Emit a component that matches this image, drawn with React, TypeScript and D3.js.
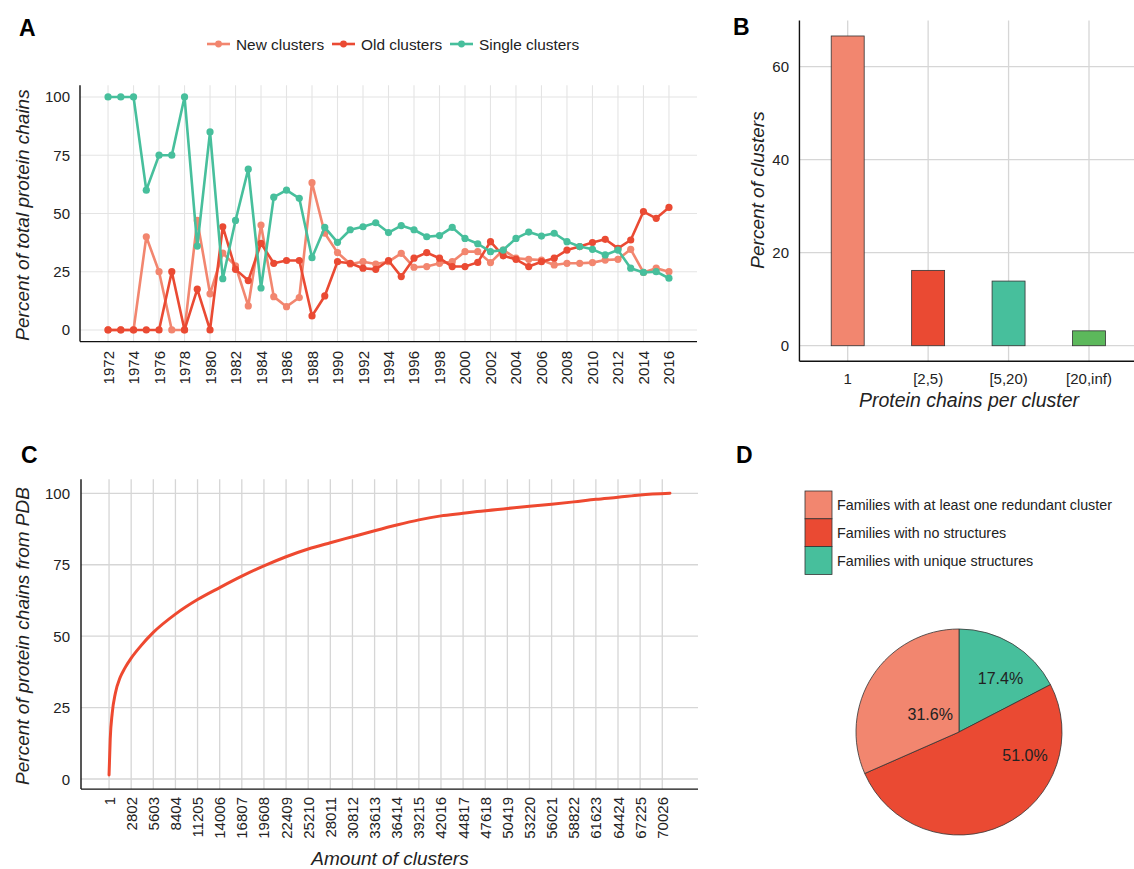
import React from 'react';
import * as d3 from 'd3';

// ---- panel A: share of protein chains per year ----
const years = [1972, 1973, 1974, 1975, 1976, 1977, 1978, 1979, 1980, 1981, 1982, 1983, 1984, 1985, 1986, 1987, 1988, 1989, 1990, 1991, 1992, 1993, 1994, 1995, 1996, 1997, 1998, 1999, 2000, 2001, 2002, 2003, 2004, 2005, 2006, 2007, 2008, 2009, 2010, 2011, 2012, 2013, 2014, 2015, 2016];
const newClusters = [0, 0, 0, 40, 25, 0, 0, 47, 15.5, 33, 27.5, 10.3, 45, 14.3, 10, 13.9, 63.2, 41.5, 33.2, 28.3, 29.3, 28.3, 29.3, 32.9, 26.9, 27.2, 28.6, 29.3, 33.6, 33.6, 28.9, 34.3, 30.8, 30.3, 30, 27.9, 28.6, 28.6, 28.9, 30, 30.3, 34.6, 24.7, 26.5, 25];
const oldClusters = [0, 0, 0, 0, 0, 25, 0, 17.5, 0, 44.3, 26, 21.2, 37.2, 28.6, 29.8, 29.8, 6, 14.6, 29.3, 28.6, 26.5, 26, 29.8, 22.9, 30.8, 33.2, 30.8, 27.2, 27.2, 29, 37.9, 31.8, 30.3, 27.2, 29.3, 30.8, 34.3, 35.8, 37.5, 38.9, 35, 38.6, 50.8, 47.9, 52.6];
const singleClusters = [100, 100, 100, 60, 75, 75, 100, 36, 85, 22, 47, 69, 18, 57, 60, 56.5, 31, 44, 37.6, 43, 44.3, 46, 41.8, 44.8, 43, 40, 40.5, 44, 39.3, 37, 33.6, 34.3, 39.3, 42, 40.3, 41.5, 37.9, 35.8, 34.6, 32.2, 34.3, 26.5, 24.7, 25, 22.2];
const yearTicks = [1972, 1974, 1976, 1978, 1980, 1982, 1984, 1986, 1988, 1990, 1992, 1994, 1996, 1998, 2000, 2002, 2004, 2006, 2008, 2010, 2012, 2014, 2016];
const percentTicks = [0, 25, 50, 75, 100];

// ---- panel B: cluster sizes ----
const sizeBins = ['1', '[2,5)', '[5,20)', '[20,inf)'];
const clusterShare = [66.6, 16.2, 13.9, 3.2];
const shareTicks = [0, 20, 40, 60];

// ---- panel C: cumulative coverage ----
const clusterCount = [1, 150, 400, 800, 1400, 2000, 2802, 4000, 5603, 8404, 11205, 14006, 16807, 19608, 22409, 25210, 28011, 30812, 33613, 36414, 39215, 42016, 44817, 46600, 50419, 53220, 56021, 58822, 61623, 64424, 67225, 71000];
const chainCoverage = [1.4, 14, 23, 30, 35.5, 38.8, 42.3, 46.5, 51.3, 57.7, 62.8, 67, 71, 74.6, 77.8, 80.5, 82.7, 84.8, 86.9, 88.9, 90.7, 92.1, 93, 93.6, 94.7, 95.5, 96.2, 97, 97.9, 98.6, 99.4, 100];
const clusterTicks = [1, 2802, 5603, 8404, 11205, 14006, 16807, 19608, 22409, 25210, 28011, 30812, 33613, 36414, 39215, 42016, 44817, 47618, 50419, 53220, 56021, 58822, 61623, 64424, 67225, 70026];

// ---- panel D: families ----
const familyGroups = ['Families with at least one redundant cluster', 'Families with no structures', 'Families with unique structures'];
const familyShare = [31.6, 51.0, 17.4];

const SALMON = '#F2866F';
const RED = '#EA4A33';
const TEAL = '#47BF9C';
const GREEN = '#5CB85B';
const GRID = '#d6d6d6';
const FONT = '"Liberation Sans", Arial, sans-serif';
const TICK = 15;
const TITLE = 19;

// ggplot-ish 5% padding around the data range
const expand = (lo: number, hi: number, k = 0.05) => [lo - (hi - lo) * k, hi + (hi - lo) * k];

const PanelA = () => {
  const [x0, x1] = expand(d3.min(years)!, d3.max(years)!);
  const x = d3.scaleLinear().domain([x0, x1]).range([80, 697]);
  const y = d3.scaleLinear().domain(expand(0, 100)).range([341.6, 85.3]);
  const series = [
    { name: 'New clusters', values: newClusters, color: SALMON },
    { name: 'Old clusters', values: oldClusters, color: RED },
    { name: 'Single clusters', values: singleClusters, color: TEAL },
  ];
  const line = d3.line<number>().x((_, i) => x(years[i])).y((d) => y(d));
  const legendX = [207, 332, 450];
  return (
    <g>
      {percentTicks.map((t) => (
        <line key={'h' + t} x1={80} x2={697} y1={y(t)} y2={y(t)} stroke="#e4e4e4" strokeWidth={1.1} />
      ))}
      {yearTicks.map((t) => (
        <line key={'v' + t} x1={x(t)} x2={x(t)} y1={y.range()[1]} y2={y.range()[0]} stroke="#e4e4e4" strokeWidth={1.1} />
      ))}
      {series.map((s) => (
        <g key={s.name}>
          <path d={line(s.values)!} fill="none" stroke={s.color} strokeWidth={2.6} strokeLinejoin="round" />
          {s.values.map((v, i) => (
            <circle key={i} cx={x(years[i])} cy={y(v)} r={3.6} fill={s.color} />
          ))}
        </g>
      ))}
      <line x1={80} x2={80} y1={85.3} y2={341.6} stroke="#111" strokeWidth={1.4} />
      <line x1={80} x2={697} y1={341.6} y2={341.6} stroke="#111" strokeWidth={1.4} />
      {percentTicks.map((t) => (
        <text key={'yl' + t} x={70} y={y(t)} textAnchor="end" dominantBaseline="central" fontSize={TICK} fill="#222">{t}</text>
      ))}
      {yearTicks.map((t) => (
        <text key={'xl' + t} transform={`translate(${x(t)},351) rotate(-90)`} textAnchor="end" dominantBaseline="central" fontSize={TICK} fill="#222">{t}</text>
      ))}
      <text transform="translate(22,215) rotate(-90)" textAnchor="middle" dominantBaseline="central" fontSize={TITLE} fontStyle="italic" fill="#222">Percent of total protein chains</text>
      {series.map((s, i) => (
        <g key={'lg' + s.name} transform={`translate(${legendX[i]},44)`}>
          <line x1={0} x2={23} y1={0} y2={0} stroke={s.color} strokeWidth={2.6} />
          <circle cx={11.5} cy={0} r={3.4} fill={s.color} />
          <text x={29} y={0} dominantBaseline="central" fontSize={15.4} fill="#222">{s.name}</text>
        </g>
      ))}
      <text x={19} y={36} fontSize={23} fontWeight="bold" fill="#000">A</text>
    </g>
  );
};

const PanelB = () => {
  const pts = d3.scalePoint<string>().domain(sizeBins).range([847.7, 1089]);
  const step = pts.step();
  const y = d3.scaleLinear().domain(expand(0, d3.max(clusterShare)!)).range([361.2, 20.5]);
  const colors = [SALMON, RED, TEAL, GREEN];
  const bw = step * 0.41;
  const left = pts(sizeBins[0])! - 0.6 * step;
  const right = pts(sizeBins[sizeBins.length - 1])! + 0.6 * step;
  return (
    <g>
      {shareTicks.map((t) => (
        <line key={'h' + t} x1={left} x2={right} y1={y(t)} y2={y(t)} stroke={GRID} strokeWidth={1.3} />
      ))}
      {sizeBins.map((b) => (
        <line key={'v' + b} x1={pts(b)} x2={pts(b)} y1={20.5} y2={361.2} stroke={GRID} strokeWidth={1.3} />
      ))}
      {clusterShare.map((v, i) => (
        <rect key={i} x={pts(sizeBins[i])! - bw / 2} y={y(v)} width={bw} height={y(0) - y(v)} fill={colors[i]} stroke="#333" strokeWidth={0.8} />
      ))}
      <line x1={left} x2={left} y1={20.5} y2={361.2} stroke="#111" strokeWidth={1.4} />
      <line x1={left} x2={right} y1={361.2} y2={361.2} stroke="#111" strokeWidth={1.4} />
      {shareTicks.map((t) => (
        <text key={'yl' + t} x={789} y={y(t)} textAnchor="end" dominantBaseline="central" fontSize={TICK} fill="#222">{t}</text>
      ))}
      {sizeBins.map((b) => (
        <text key={'xl' + b} x={pts(b)} y={378} textAnchor="middle" dominantBaseline="central" fontSize={TICK} fill="#222">{b}</text>
      ))}
      <text x={969} y={400} textAnchor="middle" dominantBaseline="central" fontSize={TITLE + 0.5} fontStyle="italic" fill="#222">Protein chains per cluster</text>
      <text transform="translate(757,190) rotate(-90)" textAnchor="middle" dominantBaseline="central" fontSize={TITLE} fontStyle="italic" fill="#222">Percent of clusters</text>
      <text x={733} y={35} fontSize={23} fontWeight="bold" fill="#000">B</text>
    </g>
  );
};

const PanelC = () => {
  const x = d3.scaleLinear().domain(expand(d3.min(clusterCount)!, d3.max(clusterCount)!)).range([81, 698]);
  const ySpan = expand(d3.min(chainCoverage)!, d3.max(chainCoverage)!);
  const y = d3.scaleLinear().domain([0, 100]).range([779, 493.3]);
  const yTop = y(ySpan[1]);
  const yBot = y(ySpan[0]);
  const line = d3.line<number>().x((_, i) => x(clusterCount[i])).y((d) => y(d)).curve(d3.curveMonotoneX);
  return (
    <g>
      {percentTicks.map((t) => (
        <line key={'h' + t} x1={81} x2={698} y1={y(t)} y2={y(t)} stroke={GRID} strokeWidth={1.3} />
      ))}
      {clusterTicks.map((t) => (
        <line key={'v' + t} x1={x(t)} x2={x(t)} y1={yTop} y2={yBot} stroke={GRID} strokeWidth={1.3} />
      ))}
      <path d={line(chainCoverage)!} fill="none" stroke="#EE4930" strokeWidth={3} strokeLinecap="round" />
      <line x1={81} x2={81} y1={yTop} y2={yBot} stroke="#111" strokeWidth={1.4} />
      <line x1={81} x2={698} y1={yBot} y2={yBot} stroke="#111" strokeWidth={1.4} />
      {percentTicks.map((t) => (
        <text key={'yl' + t} x={70} y={y(t)} textAnchor="end" dominantBaseline="central" fontSize={TICK} fill="#222">{t}</text>
      ))}
      {clusterTicks.map((t) => (
        <text key={'xl' + t} transform={`translate(${x(t)},797) rotate(-90)`} textAnchor="end" dominantBaseline="central" fontSize={TICK} fill="#222">{t}</text>
      ))}
      <text x={390} y={858} textAnchor="middle" dominantBaseline="central" fontSize={TITLE} fontStyle="italic" fill="#222">Amount of clusters</text>
      <text transform="translate(22,636) rotate(-90)" textAnchor="middle" dominantBaseline="central" fontSize={TITLE} fontStyle="italic" fill="#222">Percent of protein chains from PDB</text>
      <text x={21} y={463} fontSize={23} fontWeight="bold" fill="#000">C</text>
    </g>
  );
};

const PanelD = () => {
  const colors = [SALMON, RED, TEAL];
  // pie runs clockwise from 12 o'clock, last group first
  const order = [2, 1, 0];
  const arcs = d3.pie<number>().sort(null).value((i) => familyShare[i])(order);
  const r = 103;
  const arc = d3.arc<d3.PieArcDatum<number>>().innerRadius(0).outerRadius(r);
  // where each label sits inside its slice: fraction along the slice and fraction of the radius
  const labelAt: Record<number, [number, number]> = { 2: [0.6, 0.66], 1: [0.255, 0.68], 0: [0.49, 0.33] };
  return (
    <g>
      {familyGroups.map((g, i) => (
        <g key={g} transform={`translate(805,${491 + i * 27.8})`}>
          <rect x={0} y={0} width={27} height={27.8} fill={colors[i]} stroke="#333" strokeWidth={0.8} />
          <text x={32} y={14} dominantBaseline="central" fontSize={14.3} fill="#222">{g}</text>
        </g>
      ))}
      <g transform="translate(959,732)">
        {arcs.map((a) => (
          <path key={a.data} d={arc(a)!} fill={colors[a.data]} stroke="#333" strokeWidth={0.8} />
        ))}
        {arcs.map((a) => {
          const [f, rf] = labelAt[a.data];
          const ang = a.startAngle + (a.endAngle - a.startAngle) * f;
          return (
            <text key={'l' + a.data} x={Math.sin(ang) * r * rf} y={-Math.cos(ang) * r * rf} textAnchor="middle" dominantBaseline="central" fontSize={16} fill="#222">
              {familyShare[a.data].toFixed(1)}%
            </text>
          );
        })}
      </g>
      <text x={736} y={463} fontSize={23} fontWeight="bold" fill="#000">D</text>
    </g>
  );
};

export default function App() {
  return (
    <svg width={1134} height={869} style={{ position: 'absolute', left: 0, top: 0, background: '#fff' }} fontFamily={FONT}>
      <rect width={1134} height={869} fill="#fff" />
      <PanelA />
      <PanelB />
      <PanelC />
      <PanelD />
    </svg>
  );
}
